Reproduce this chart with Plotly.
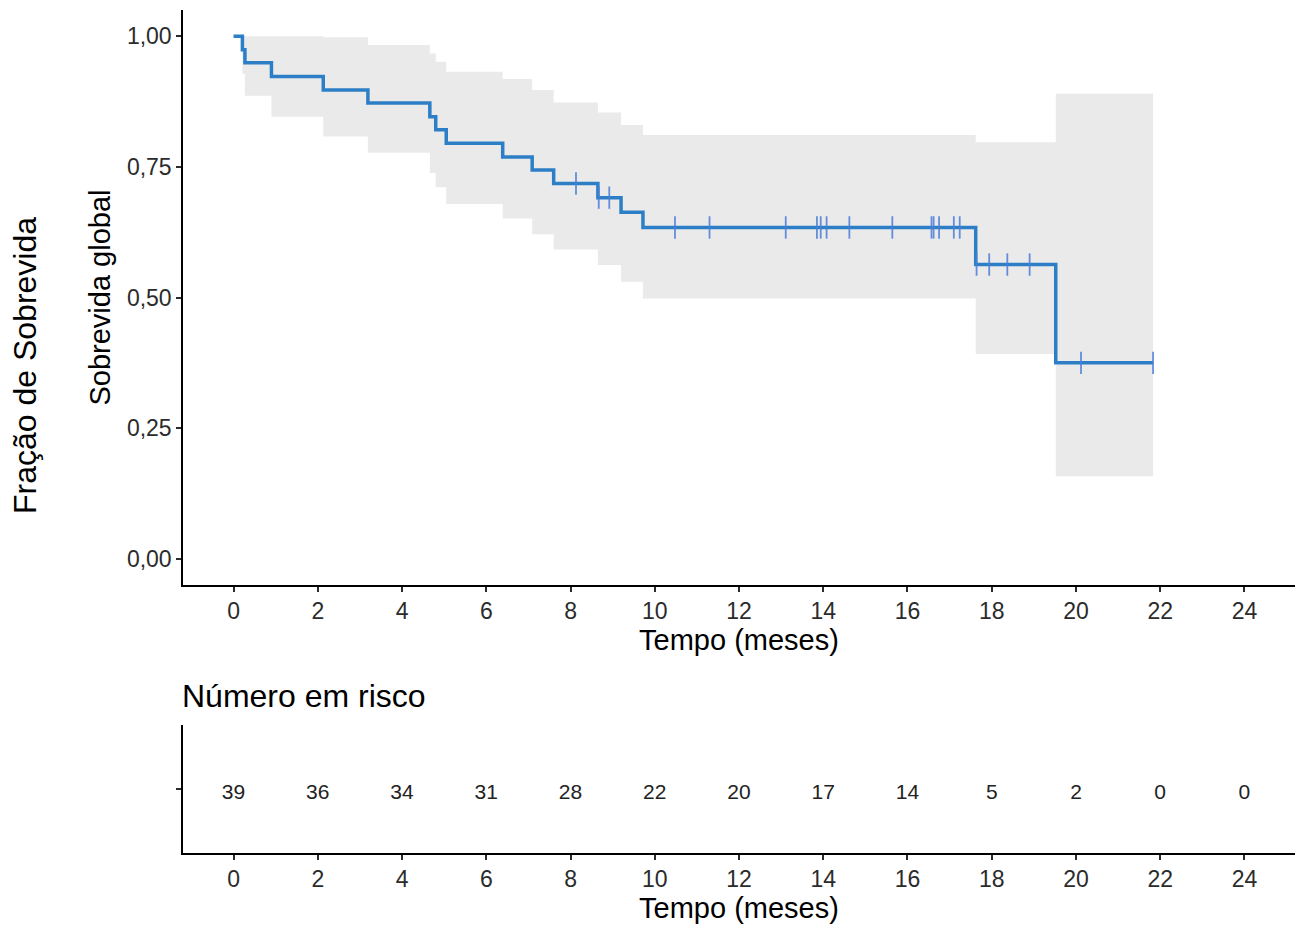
import numpy as np
import plotly.graph_objects as go

# Kaplan-Meier steps (time in months) with confidence limits
step_time = [0.00, 0.21, 0.27, 0.90, 2.13, 3.19, 4.66, 4.80, 5.05, 6.39, 7.09, 7.60,
             8.65, 9.20, 9.72, 17.62, 19.52, 21.83]
survival = [1.000, 0.974, 0.949, 0.923, 0.897, 0.872, 0.846, 0.821, 0.795, 0.769, 0.744,
            0.718, 0.691, 0.663, 0.634, 0.563, 0.375, 0.375]
upper_ci = [1.000, 1.000, 1.000, 1.000, 0.998, 0.983, 0.967, 0.951, 0.932, 0.918, 0.897,
            0.873, 0.854, 0.830, 0.811, 0.797, 0.890, 0.890]
lower_ci = [1.000, 0.928, 0.886, 0.846, 0.808, 0.777, 0.738, 0.711, 0.679, 0.651, 0.621,
            0.592, 0.562, 0.530, 0.498, 0.392, 0.158, 0.158]

# Censored observations
censor_time = [8.13, 8.67, 8.92, 10.48, 11.30, 13.11, 13.85, 13.94, 14.08, 14.62, 15.64,
               16.57, 16.62, 16.75, 17.10, 17.24, 17.64, 17.94, 18.37, 18.90, 20.12, 21.83]

# Number at risk table
risk_time = [0, 2, 4, 6, 8, 10, 12, 14, 16, 18, 20, 22, 24]
risk_n = [39, 36, 34, 31, 28, 22, 20, 17, 14, 5, 2, 0, 0]

x_ticks = list(range(0, 25, 2))
y_ticks = [0.0, 0.25, 0.5, 0.75, 1.0]
y_ticktext = ["0,00", "0,25", "0,50", "0,75", "1,00"]

FONT = "Liberation Sans, Arial, sans-serif"
LINE_COLOR = "#2C7FC6"
BAND_COLOR = "#EAEAEA"
TICK_COLOR = "#2B2B2B"
W, H = 1301, 927


def surv_at(t):
    idx = np.searchsorted(np.array(step_time), t, side="right") - 1
    return survival[int(idx)]


censor_surv = [surv_at(t) for t in censor_time]

fig = go.Figure()

# confidence band
fig.add_trace(go.Scatter(x=step_time, y=upper_ci, mode="lines", line=dict(width=0, shape="hv"),
                         hoverinfo="skip", showlegend=False, xaxis="x", yaxis="y"))
fig.add_trace(go.Scatter(x=step_time, y=lower_ci, mode="lines", line=dict(width=0, shape="hv"),
                         fill="tonexty", fillcolor=BAND_COLOR, hoverinfo="skip",
                         showlegend=False, xaxis="x", yaxis="y"))

# survival curve
fig.add_trace(go.Scatter(x=step_time, y=survival, mode="lines",
                         line=dict(color=LINE_COLOR, width=3.5, shape="hv"),
                         showlegend=False, xaxis="x", yaxis="y"))

# censor marks
fig.add_trace(go.Scatter(x=censor_time, y=censor_surv, mode="markers",
                         marker=dict(symbol="line-ns", size=16,
                                     line=dict(color="rgba(75,125,215,0.85)", width=1.8)),
                         showlegend=False, xaxis="x", yaxis="y"))

# number at risk
fig.add_trace(go.Scatter(x=risk_time, y=[0.96] * len(risk_time), mode="text",
                         text=[str(n) for n in risk_n],
                         textfont=dict(family=FONT, size=21, color="#222222"),
                         showlegend=False, xaxis="x2", yaxis="y2"))

x_dom = [183 / W, 1295 / W]
top_dom = [1 - 585 / H, 1 - 10 / H]
bot_dom = [1 - 853 / H, 1 - 725 / H]

axis_common = dict(showline=True, linecolor="black", linewidth=1.5, ticks="outside",
                   ticklen=5, tickwidth=1.5, tickcolor=TICK_COLOR, showgrid=False,
                   zeroline=False, mirror=False,
                   tickfont=dict(family=FONT, size=23, color=TICK_COLOR))

title_font = dict(family=FONT, size=29, color="black")

fig.update_layout(
    width=W, height=H,
    margin=dict(l=0, r=0, t=0, b=0),
    paper_bgcolor="white", plot_bgcolor="white",
    font=dict(family=FONT, color="black"),
    xaxis=dict(domain=x_dom, range=[-1.2, 25.2], tickvals=x_ticks, anchor="y",
               title=dict(text="Tempo (meses)", font=title_font, standoff=6),
               **axis_common),
    yaxis=dict(domain=top_dom, range=[-0.05, 1.05], tickvals=y_ticks, ticktext=y_ticktext,
               anchor="x",
               title=dict(text="Sobrevida global", font=title_font, standoff=8),
               **axis_common),
    xaxis2=dict(domain=x_dom, range=[-1.2, 25.2], tickvals=x_ticks, anchor="y2",
                title=dict(text="Tempo (meses)", font=title_font, standoff=6),
                **axis_common),
    yaxis2=dict(domain=bot_dom, range=[0.5, 1.5], tickvals=[1], showticklabels=False,
                anchor="x2", **axis_common),
    annotations=[
        dict(text="Número em risco", x=180 / W, y=1 - 696 / H, xref="paper", yref="paper",
             xanchor="left", yanchor="middle", showarrow=False,
             font=dict(family=FONT, size=32, color="black")),
        dict(text="Fração de Sobrevida", x=25 / W, y=1 - 366 / H, xref="paper", yref="paper",
             xanchor="center", yanchor="middle", textangle=-90, showarrow=False,
             font=dict(family=FONT, size=32, color="black")),
    ],
)

fig.write_html("out.html")
